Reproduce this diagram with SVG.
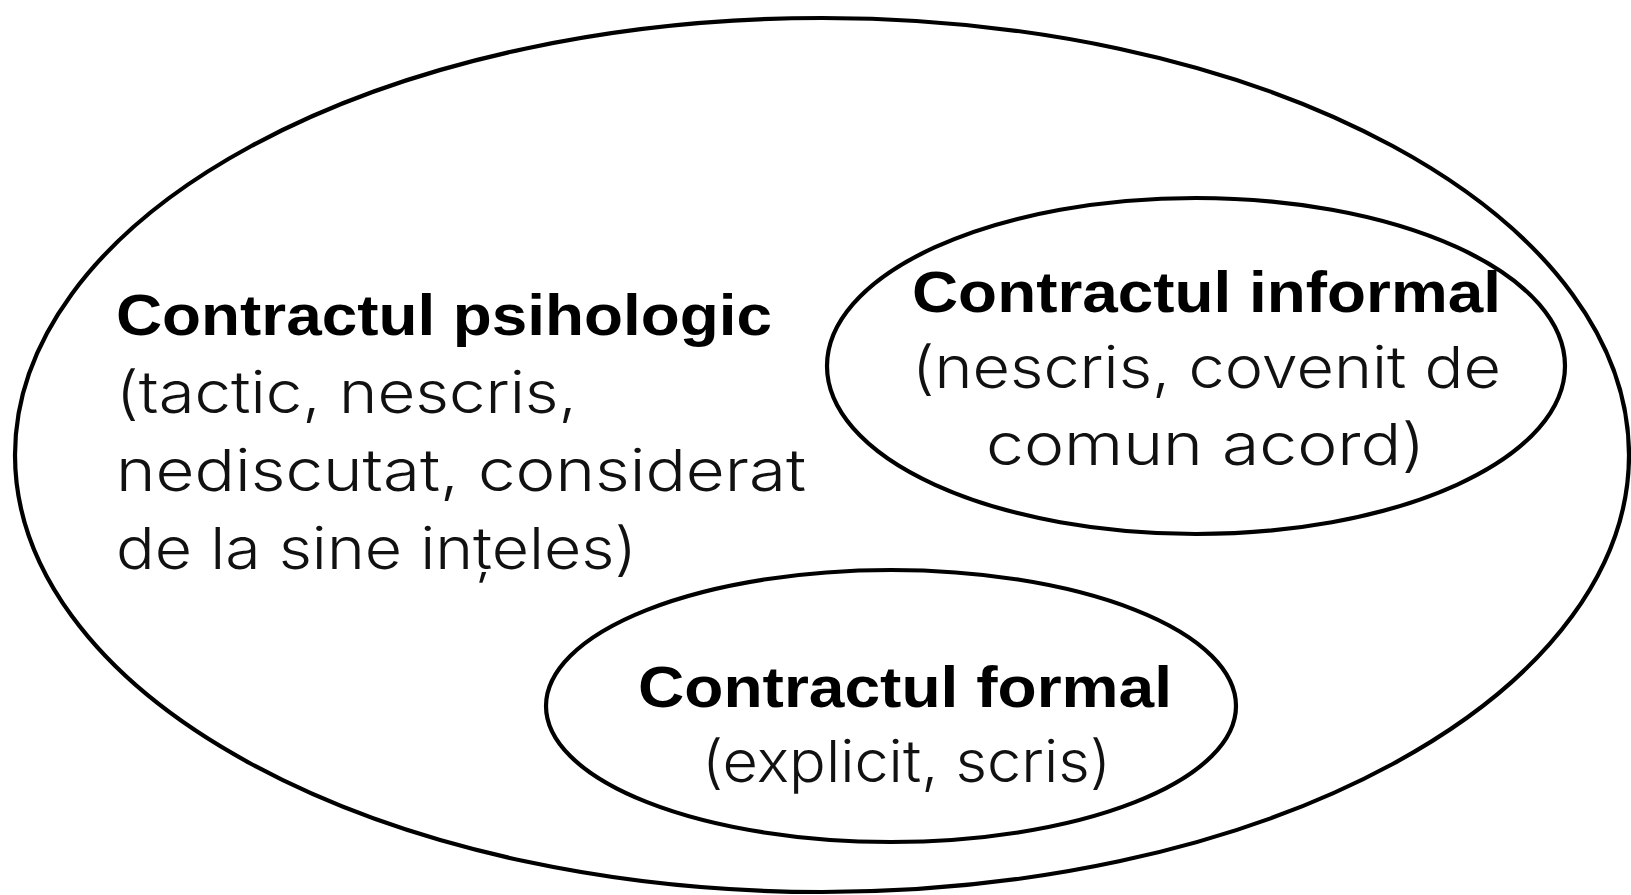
<svg xmlns="http://www.w3.org/2000/svg" width="1631" height="895" viewBox="0 0 1631 895">
<style>
.e{fill:none;stroke:#000;stroke-width:4.2}
.b{font-family:"Liberation Sans",Arial,sans-serif;font-weight:bold;font-size:57px;fill:#000}
.r{font-family:Inter,"Liberation Sans",Arial,sans-serif;font-weight:300;font-size:58px;fill:#111}
</style>
<rect width="1631" height="895" fill="#fff"/>
<g id="psihologic">
<ellipse class="e" cx="822" cy="455" rx="807" ry="437"/>
<text class="b" x="116" y="335" textLength="656" lengthAdjust="spacingAndGlyphs">Contractul psihologic</text>
<text class="r" x="116" y="413" textLength="461" lengthAdjust="spacingAndGlyphs">(tactic, nescris,</text>
<text class="r" x="116" y="491" textLength="690" lengthAdjust="spacingAndGlyphs">nediscutat, considerat</text>
<text class="r" x="116" y="569" textLength="521" lengthAdjust="spacingAndGlyphs">de la sine ințeles)</text>
</g>
<g id="informal">
<ellipse class="e" cx="1196" cy="366" rx="369" ry="168"/>
<text class="b" x="912" y="312" textLength="589" lengthAdjust="spacingAndGlyphs">Contractul informal</text>
<text class="r" x="912" y="388" textLength="589" lengthAdjust="spacingAndGlyphs">(nescris, covenit de</text>
<text class="r" x="986" y="465" textLength="439" lengthAdjust="spacingAndGlyphs">comun acord)</text>
</g>
<g id="formal">
<ellipse class="e" cx="891" cy="706" rx="345" ry="136"/>
<text class="b" x="638" y="707" textLength="534" lengthAdjust="spacingAndGlyphs">Contractul formal</text>
<text class="r" x="702" y="782" textLength="409" lengthAdjust="spacingAndGlyphs">(explicit, scris)</text>
</g>
<g id="connectors"/>
</svg>
